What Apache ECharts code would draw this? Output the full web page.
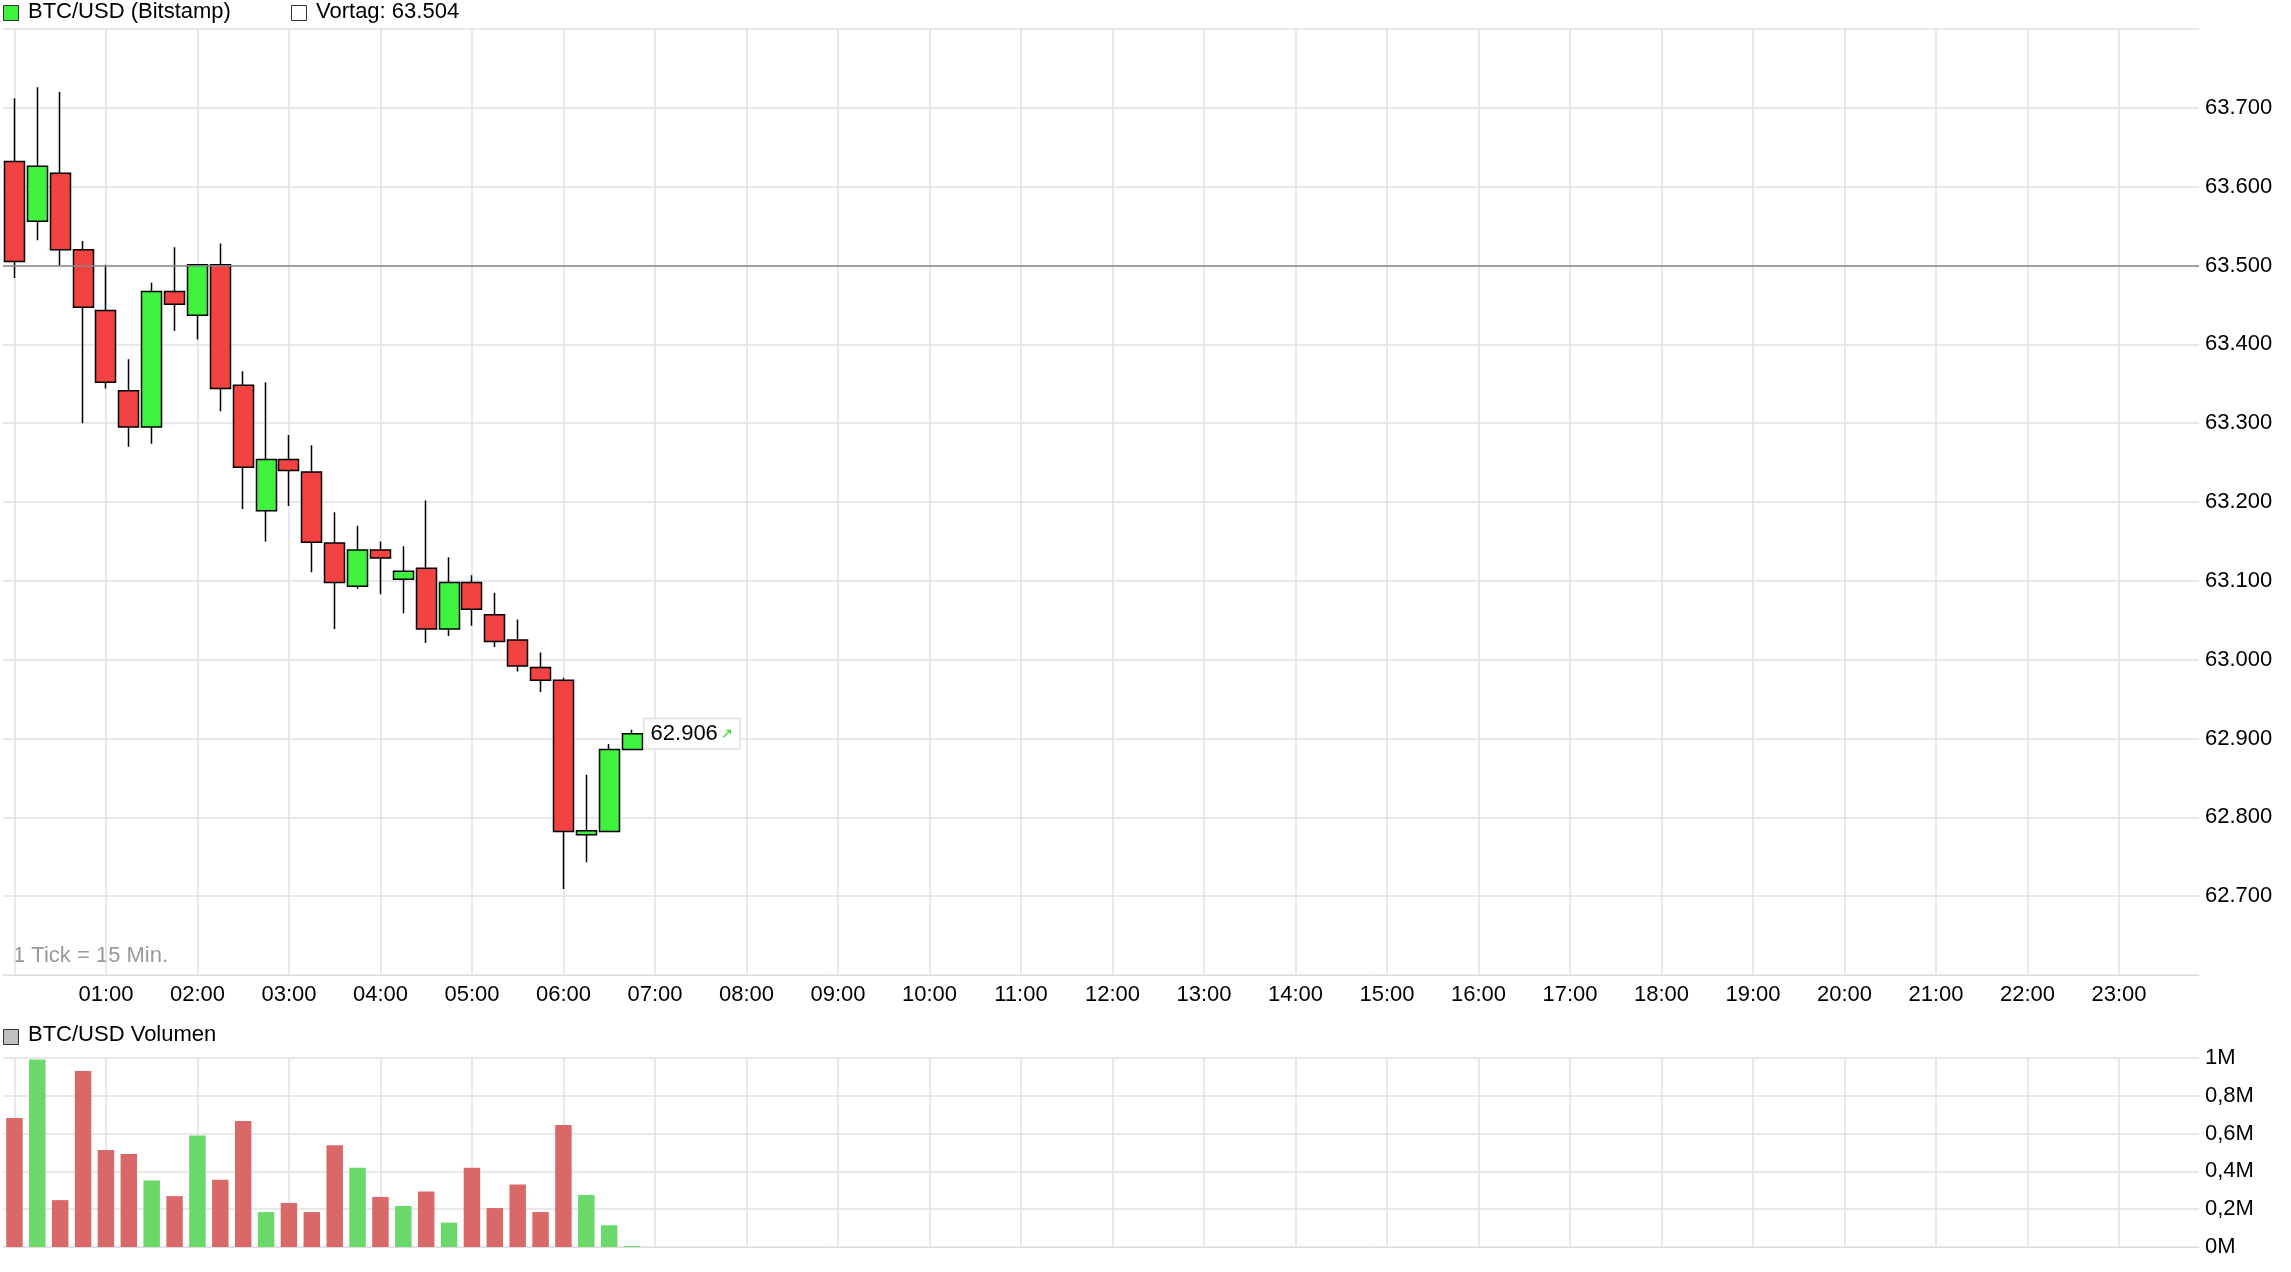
<!DOCTYPE html>
<html><head><meta charset="utf-8">
<script src="https://cdn.jsdelivr.net/npm/echarts@6/dist/echarts.min.js"></script>
<style>html,body{margin:0;padding:0;background:#fff}#c{width:2291px;height:1272px}</style>
</head><body><div id="c"></div>
<script>
// candles: [open, close, low, high], 15-min ticks starting 00:00
const opens  = [63.632,63.556,63.617,63.520,63.443,63.341,63.295,63.467,63.437,63.501,63.348,63.189,63.254,63.238,63.148,63.093,63.139,63.102,63.116,63.039,63.098,63.057,63.025,62.990,62.974,62.778,62.782,62.886];
const closes = [63.505,63.626,63.520,63.447,63.352,63.295,63.467,63.451,63.501,63.344,63.244,63.254,63.240,63.149,63.098,63.139,63.129,63.112,63.039,63.098,63.064,63.023,62.992,62.974,62.782,62.783,62.886,62.906];
const lows   = [63.484,63.532,63.500,63.300,63.344,63.270,63.274,63.417,63.406,63.315,63.191,63.150,63.195,63.111,63.039,63.090,63.083,63.059,63.021,63.030,63.043,63.016,62.985,62.959,62.709,62.743,62.781,62.886];
const highs  = [63.712,63.726,63.720,63.531,63.501,63.381,63.478,63.523,63.501,63.528,63.366,63.352,63.285,63.272,63.187,63.170,63.150,63.144,63.202,63.130,63.107,63.085,63.051,63.009,62.977,62.854,62.893,62.911];
const volumes = [0.683,0.992,0.248,0.931,0.513,0.492,0.352,0.269,0.590,0.356,0.667,0.185,0.233,0.185,0.538,0.419,0.265,0.217,0.294,0.129,0.419,0.206,0.331,0.185,0.646,0.275,0.115,0.006];
const prevClose = 63.504;
const lastPrice = 62.906;

const cats = [];
for (let i = 0; i < 96; i++) {
  const h = Math.floor(i / 4), m = (i % 4) * 15;
  cats.push(String(h).padStart(2,'0') + ':' + String(m).padStart(2,'0'));
}
const fmtPrice = (v)=>{const n=Math.round(v*1000); return Math.floor(n/1000)+'.'+String(n%1000).padStart(3,'0');};
const candleData = opens.map((o,i)=>[o, closes[i], lows[i], highs[i]]);
const RED='#f24242', GREEN='#40f240', VRED='#d96868', VGREEN='#6ad96a';
const volData = volumes.map((v,i)=>({value:v, itemStyle:{color: closes[i]>=opens[i]?VGREEN:VRED}}));
const hourIdx = (i)=> i%4===0;
const font = 'Liberation Sans, Arial, sans-serif';
const FS = 22;
const gridLine = {show:true, alignWithLabel:true, interval:(i)=>hourIdx(i), lineStyle:{color:'#e2e2e2', width:1.5}};

const chart = echarts.init(document.getElementById('c'));
chart.setOption({
  animation:false,
  textStyle:{fontFamily:font},
  grid:[
    {left:3, right:92, top:29, bottom:297},
    {left:3, right:92, top:1058, bottom:25}
  ],
  xAxis:[
    {type:'category', gridIndex:0, data:cats, boundaryGap:true,
     axisLine:{show:true, lineStyle:{color:'#dddddd'}}, axisTick:{show:false},
     axisLabel:{interval:(i,v)=>hourIdx(i)&&i>0, color:'#000', fontSize:FS, margin:9, fontFamily:font},
     splitLine:gridLine},
    {type:'category', gridIndex:1, data:cats, boundaryGap:true,
     axisLine:{show:true, lineStyle:{color:'#dddddd'}}, axisTick:{show:false}, axisLabel:{show:false},
     splitLine:gridLine}
  ],
  yAxis:[
    {type:'value', gridIndex:0, position:'right', min:62.6, max:63.8, interval:0.1,
     axisLine:{show:false}, axisTick:{show:false},
     axisLabel:{color:'#000', fontSize:FS, margin:6, fontFamily:font,
       formatter:(v)=> (v<62.65||v>63.75)?'':fmtPrice(v)},
     splitLine:{show:true, lineStyle:{color:'#e2e2e2', width:1.5}}},
    {type:'value', gridIndex:1, position:'right', min:0, max:1, interval:0.2,
     axisLine:{show:false}, axisTick:{show:false},
     axisLabel:{color:'#000', fontSize:FS, margin:6, fontFamily:font,
       formatter:(v)=> v===0?'0M':(v===1?'1M':(String(+v.toFixed(1)).replace('.',',')+'M'))},
     splitLine:{show:true, lineStyle:{color:'#e2e2e2', width:1.5}}}
  ],
  series:[
    {type:'candlestick', xAxisIndex:0, yAxisIndex:0, data:candleData, barWidth:'90%',
     itemStyle:{color:GREEN, color0:RED, borderColor:'#000', borderColor0:'#000', borderWidth:1.5},
     markLine:{symbol:'none', silent:true, label:{show:false},
       lineStyle:{color:'#888', width:1.5, type:'solid'}, data:[{yAxis:prevClose}]},
     markPoint:{symbol:'rect', symbolSize:1, itemStyle:{color:'transparent'},
       data:[{coord:[cats[opens.length-1], lastPrice], value:lastPrice}],
       label:{show:true, position:'right', distance:12,
         backgroundColor:'#fff', borderColor:'#e0e0e0', borderWidth:1.5, padding:[4,6,3,6],
         formatter:()=> '{t|'+fmtPrice(lastPrice)+'} {a|↗}',
         rich:{t:{color:'#000', fontSize:FS, fontFamily:font}, a:{color:'#22dd22', fontSize:14, fontFamily:font}}}}
    },
    {type:'bar', xAxisIndex:1, yAxisIndex:1, data:volData, barWidth:'72%'}
  ],
  graphic:[
    {type:'rect', left:3, top:5, shape:{width:15,height:15}, style:{fill:GREEN, stroke:'#333', lineWidth:1}},
    {type:'text', left:28, top:1, style:{text:'BTC/USD (Bitstamp)', fontSize:FS, fill:'#000', fontFamily:font}},
    {type:'rect', left:291, top:5, shape:{width:15,height:15}, style:{fill:'#fff', stroke:'#333', lineWidth:1}},
    {type:'text', left:316, top:1, style:{text:'Vortag: 63.504', fontSize:FS, fill:'#000', fontFamily:font}},
    {type:'text', left:13, top:945, style:{text:'1 Tick = 15 Min.', fontSize:FS, fill:'#999', fontFamily:font}},
    {type:'rect', left:3, top:1029, shape:{width:15,height:15}, style:{fill:'#c0c0c0', stroke:'#333', lineWidth:1}},
    {type:'text', left:28, top:1024, style:{text:'BTC/USD Volumen', fontSize:FS, fill:'#000', fontFamily:font}}
  ]
});
</script></body></html>
